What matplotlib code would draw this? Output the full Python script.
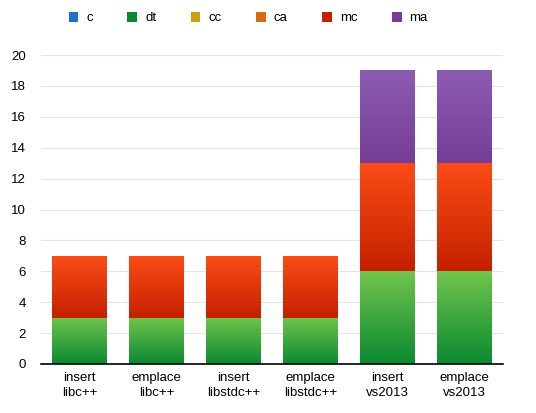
import numpy as np
import matplotlib
matplotlib.use('Agg')
import matplotlib.pyplot as plt
from matplotlib.colors import LinearSegmentedColormap
from matplotlib.patches import Patch

categories = ['insert\nlibc++', 'emplace\nlibc++', 'insert\nlibstdc++',
              'emplace\nlibstdc++', 'insert\nvs2013', 'emplace\nvs2013']
series = ['c', 'dt', 'cc', 'ca', 'mc', 'ma']
c = [0, 0, 0, 0, 0, 0]
dt = [3, 3, 3, 3, 6, 6]
cc = [0, 0, 0, 0, 0, 0]
ca = [0, 0, 0, 0, 0, 0]
mc = [4, 4, 4, 4, 7, 7]
ma = [0, 0, 0, 0, 6, 6]
yticks = [0, 2, 4, 6, 8, 10, 12, 14, 16, 18, 20]

# (top colour, bottom colour) of each gradient
grads = {'c': ('#4a9ff0', '#1f6fc8'),
         'dt': ('#72c44c', '#0a8a30'),
         'cc': ('#f2d43a', '#c9a010'),
         'ca': ('#f49a3a', '#d86a10'),
         'mc': ('#fc4c16', '#c42000'),
         'ma': ('#8c5cb2', '#763c96')}

plt.rcParams['font.family'] = ['Liberation Sans', 'DejaVu Sans']
fig = plt.figure(figsize=(5.36, 4.13), dpi=100)
ax = fig.add_axes([41 / 536, 49 / 413, 462 / 536, 309 / 413])

x = np.arange(len(categories))
bottom = np.zeros(len(categories))
grad = np.linspace(0, 1, 256).reshape(-1, 1)
for name, vals in zip(series, [c, dt, cc, ca, mc, ma]):
    vals = np.array(vals, dtype=float)
    cmap = LinearSegmentedColormap.from_list(name, [grads[name][1], grads[name][0]])
    bars = ax.bar(x, vals, 0.714, bottom=bottom, color='none', zorder=2)
    for b, v in zip(bars, vals):
        if v <= 0:
            continue
        x0 = b.get_x()
        im = ax.imshow(grad, cmap=cmap, origin='lower', aspect='auto',
                       extent=(x0, x0 + b.get_width(), b.get_y(), b.get_y() + v),
                       zorder=2)
        im.set_clip_path(b)
    bottom += vals

ax.set_xlim(-0.5, 5.5)
ax.set_ylim(0, 20)
ax.set_yticks(yticks)
ax.set_xticks(x)
ax.set_xticklabels(categories, fontsize=9.5, linespacing=1.35)
ax.tick_params(axis='y', length=0, labelsize=9.5, pad=11)
ax.tick_params(axis='x', length=0, pad=6)
ax.yaxis.grid(True, color='#e4e4e4', lw=0.8, zorder=0)
ax.set_axisbelow(True)
for s in ['top', 'right', 'left']:
    ax.spines[s].set_visible(False)
ax.spines['bottom'].set_color('k')
ax.spines['bottom'].set_linewidth(1.2)
ax.spines['bottom'].set_zorder(3)

handles = [Patch(facecolor=grads[n][1], edgecolor='none') for n in series]
fig.legend(handles, series, loc='upper center', bbox_to_anchor=(0.463, 1.0),
           ncol=6, frameon=False, fontsize=9.5, handlelength=0.75,
           handleheight=0.75, handletextpad=0.6, columnspacing=2.6)

plt.savefig('out.png', dpi=100)
